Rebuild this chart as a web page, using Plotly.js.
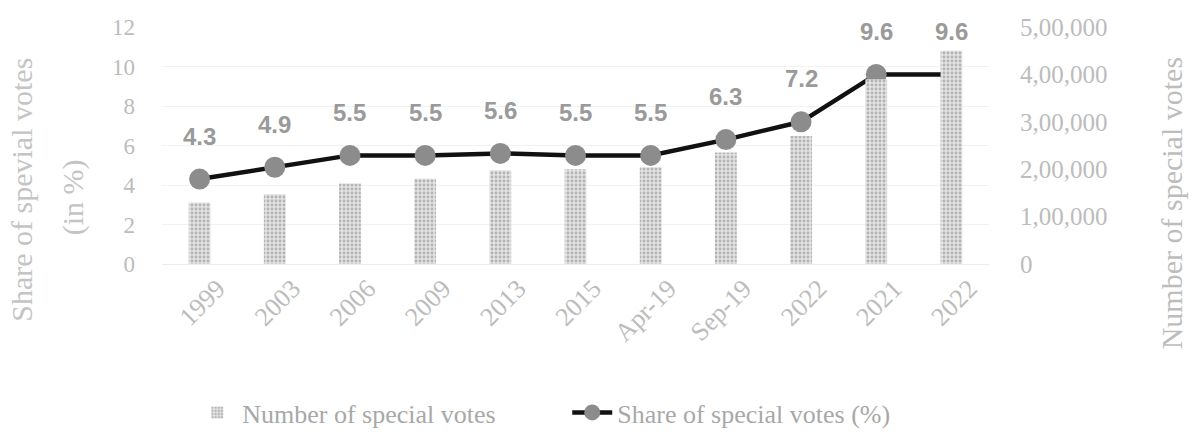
<!DOCTYPE html>
<html>
<head>
<meta charset="utf-8">
<script src="https://cdn.plot.ly/plotly-3.0.1.min.js"></script>
<style>html,body{margin:0;padding:0;background:#fff;}#chart{width:1194px;height:447px;}</style>
</head>
<body>
<div id="chart"></div>
<script>
const categories = ["1999","2003","2006","2009","2013","2015","Apr-19","Sep-19","2022","2021","2022"];
const specialVotes = [130000,147000,170000,180000,198000,200000,204000,235000,270000,390000,450000];
const sharePct = [4.3,4.9,5.5,5.5,5.6,5.5,5.5,6.3,7.2,9.6,9.6];
const leftTicks = [0,2,4,6,8,10,12];
const rightTickVals = [0,100000,200000,300000,400000,500000];
const rightTickText = ["0","1,00,000","2,00,000","3,00,000","4,00,000","5,00,000"];

const idx = categories.map((c,i)=>i);
const serif = "Liberation Serif, Times New Roman, serif";
const axisGrey = "#bcbcbc";

const barTrace = {
  type: "bar",
  name: "Number of special votes",
  x: idx, y: specialVotes, yaxis: "y2",
  width: 0.29,
  marker: {
    color: "#e0e0e0",
    line: {width: 0},
    pattern: {shape: ".", fgcolor: "#b3b3b3", bgcolor: "#e4e4e4", size: 4, solidity: 0.4}
  },
  hoverinfo: "skip"
};
const lineTrace = {
  type: "scatter",
  mode: "lines+markers",
  name: "Share of special votes (%)",
  x: idx, y: sharePct, yaxis: "y",
  line: {color: "#111111", width: 4.5},
  marker: {color: "#8c8c8c", size: 21, line: {width: 0}},
  hoverinfo: "skip"
};

const labelAnns = sharePct.map((v,i)=>({
  x: i, y: v, xref: "x", yref: "y",
  text: v.toFixed(1), showarrow: false, yshift: 43,
  font: {family: "Liberation Sans, Arial, sans-serif", size: 24, color: "#9a9a9a", weight: "bold"}
}));

const titleAnns = [
  {xref:"paper", yref:"paper", x:-0.170, y:0.315, xanchor:"center", yanchor:"middle",
   text:"Share of spevial votes", textangle:-90, showarrow:false,
   font:{family:serif, size:30, color:"#c4c4c4"}},
  {xref:"paper", yref:"paper", x:-0.108, y:0.28, xanchor:"center", yanchor:"middle",
   text:"(in %)", textangle:-90, showarrow:false,
   font:{family:serif, size:30, color:"#c4c4c4"}},
  {xref:"paper", yref:"paper", x:1.221, y:0.255, xanchor:"center", yanchor:"middle",
   text:"Number of special votes", textangle:-90, showarrow:false,
   font:{family:serif, size:30, color:"#bdbdbd"}}
];

const layout = {
  width: 1194, height: 447,
  margin: {l: 162, r: 205, t: 27, b: 182},
  paper_bgcolor: "#ffffff", plot_bgcolor: "#ffffff",
  showlegend: true,
  legend: {orientation: "h", x: 0.49, xanchor: "center", y: -0.62, yanchor: "middle",
           font: {family: serif, size: 26, color: "#a8a8a8"}, itemwidth: 40, traceorder: "normal",
           entrywidth: 320, entrywidthmode: "pixels"},
  xaxis: {
    range: [-0.5, 10.5], tickmode: "array", tickvals: idx, ticktext: categories,
    tickangle: -45, tickfont: {family: serif, size: 26, color: axisGrey},
    showgrid: false, zeroline: false, showline: true, linecolor: "#ececec", linewidth: 1,
    ticks: "", ticklabelshift: 18, ticklabelstandoff: -2
  },
  yaxis: {
    range: [0, 12], tickmode: "array", tickvals: leftTicks,
    tickfont: {family: serif, size: 23, color: axisGrey},
    showgrid: true, gridcolor: "#f2f2f2", zeroline: false, showline: false,
    ticks: "", ticklabelstandoff: 26
  },
  yaxis2: {
    overlaying: "y", side: "right", range: [0, 500000],
    tickmode: "array", tickvals: rightTickVals, ticktext: rightTickText,
    tickfont: {family: serif, size: 25, color: axisGrey},
    showgrid: false, zeroline: false, showline: false,
    ticks: "", ticklabelstandoff: 30
  },
  bargap: 0.7,
  annotations: labelAnns.concat(titleAnns)
};

Plotly.newPlot("chart", [barTrace, lineTrace], layout, {displayModeBar: false, staticPlot: true});
</script>
</body>
</html>
